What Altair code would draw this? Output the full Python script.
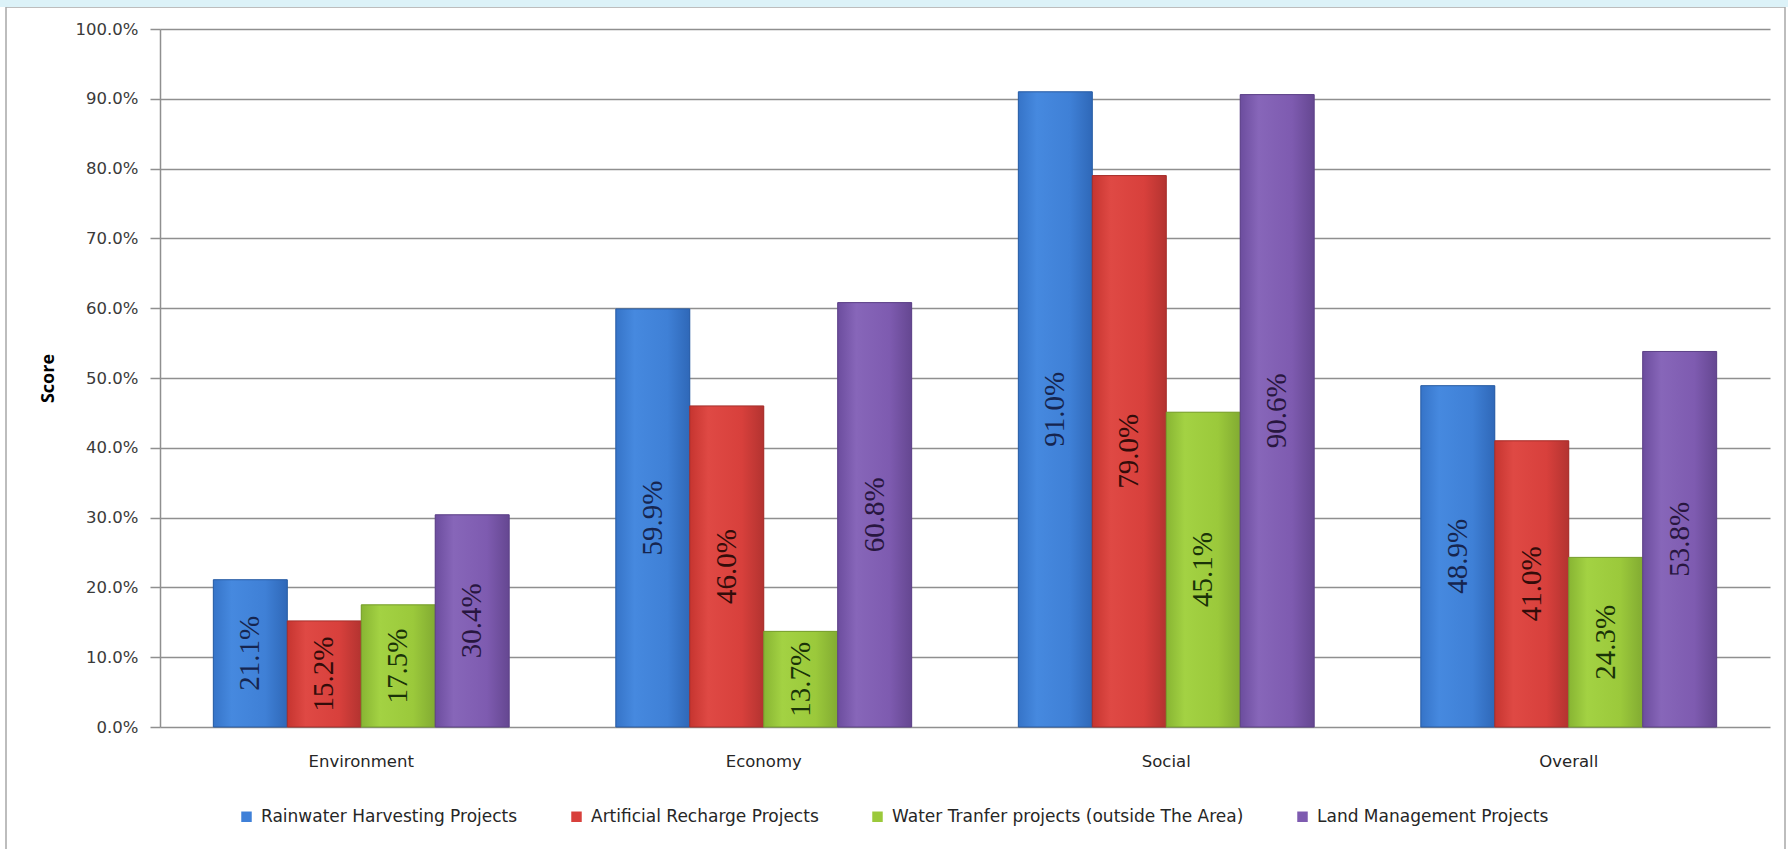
import altair as alt
import pandas as pd

categories = ["Environment", "Economy", "Social", "Overall"]
series = [
    "Rainwater Harvesting Projects",
    "Artificial Recharge Projects",
    "Water Tranfer projects (outside The Area)",
    "Land Management  Projects",
]
rainwater = [0.211, 0.599, 0.910, 0.489]
artificial = [0.152, 0.460, 0.790, 0.410]
transfer = [0.175, 0.137, 0.451, 0.243]
land = [0.304, 0.608, 0.906, 0.538]
y_ticks = [0.0, 0.1, 0.2, 0.3, 0.4, 0.5, 0.6, 0.7, 0.8, 0.9, 1.0]

legend_colors = ["#3f80d8", "#d8403c", "#9bc93b", "#7e5bb0"]
grad_stops = [
    ["#3674c8", "#4689df", "#3f80d6", "#2f68b8"],
    ["#c63530", "#df4944", "#d8403c", "#b33330"],
    ["#88b533", "#a3d243", "#9bc93b", "#82ab32"],
    ["#6c4d9e", "#8766b9", "#7e5bb0", "#654791"],
]
strokes = ["#2a5da3", "#a52f2b", "#779d2e", "#5d4287"]
label_colors = ["#16254f", "#330c0a", "#1a3308", "#28163f"]

rows = []
for s, vals in zip(series, [rainwater, artificial, transfer, land]):
    for c, v in zip(categories, vals):
        rows.append({"category": c, "series": s, "value": v})
df = pd.DataFrame(rows)

W, H = 1610, 698
SANS = "DejaVu Sans"

xenc = alt.X("category:N", sort=categories,
             scale=alt.Scale(paddingInner=0.265, paddingOuter=0.1325),
             axis=alt.Axis(title=None, labelAngle=0, domain=False, ticks=False,
                           labelPadding=26, labelFontSize=16.5, labelFont=SANS,
                           labelColor="#262626"))
xoff = alt.XOffset("series:N", sort=series, scale=alt.Scale(paddingInner=0, paddingOuter=0))


def yenc(field):
    return alt.Y(field, scale=alt.Scale(domain=[0, 1], nice=False),
                 title="Score",
                 axis=alt.Axis(values=y_ticks, format=".1%", grid=True,
                               gridColor="#8f8f8f", gridWidth=1.5,
                               domainColor="#8f8f8f", domainWidth=1.5,
                               tickColor="#8f8f8f", tickWidth=1.5, tickSize=10,
                               labelPadding=12, labelFontSize=16.5, labelFont=SANS,
                               labelColor="#3a3a3a",
                               titleFont="Open Sans", titleFontSize=18, titleFontWeight="bold",
                               titleColor="#000000", titleAngle=270,
                               titleX=-112, titleY=H / 2, titleAlign="center",
                               titleBaseline="middle"))


frame_df = pd.DataFrame({"a": [0]})
frame = alt.Chart(frame_df).mark_rect(fillOpacity=0, stroke="#a8a8a8", strokeWidth=1.5).encode(
    x=alt.value(-154), x2=alt.value(1625), y=alt.value(-22), y2=alt.value(860))
strip = alt.Chart(frame_df).mark_rect(color="#dcf2f8").encode(
    x=alt.value(-160), x2=alt.value(1628), y=alt.value(-29), y2=alt.value(-22))

base_bars = alt.Chart(df).mark_bar().encode(
    x=xenc, xOffset=xoff, y=yenc("value:Q"),
    color=alt.Color("series:N", sort=series,
                    scale=alt.Scale(domain=series, range=legend_colors),
                    legend=alt.Legend(title=None, orient="none", direction="horizontal",
                                      legendX=78, legendY=779, padding=0,
                                      symbolType="square", symbolSize=110,
                                      symbolStrokeWidth=0, labelOffset=6,
                                      columnPadding=50, labelLimit=600,
                                      labelFont=SANS, labelFontSize=17,
                                      labelColor="#262626")),
)

layers = [frame, strip, base_bars]
for i, s in enumerate(series):
    g = grad_stops[i]
    grad = alt.Gradient(gradient="linear", x1=0, x2=1, y1=0, y2=0,
                        stops=[alt.GradientStop(offset=0, color=g[0]),
                               alt.GradientStop(offset=0.25, color=g[1]),
                               alt.GradientStop(offset=0.7, color=g[2]),
                               alt.GradientStop(offset=1, color=g[3])])
    bars = alt.Chart(df).transform_filter(alt.datum.series == s).mark_bar(
        fill=grad, stroke=strokes[i], strokeWidth=1).encode(
        x=xenc, xOffset=xoff, y=yenc("value:Q"))
    texts = alt.Chart(df).transform_filter(alt.datum.series == s).transform_calculate(
        half="datum.value / 2").mark_text(
        angle=270, align="center", baseline="middle", font="Liberation Serif",
        fontSize=29, color=label_colors[i]).encode(
        x=xenc, xOffset=xoff, y=yenc("half:Q"),
        text=alt.Text("value:Q", format=".1%"))
    layers += [bars, texts]

chart = alt.layer(*layers).properties(
    width=W, height=H,
    padding={"left": 160, "top": 29, "right": 18, "bottom": 122},
    autosize=alt.AutoSizeParams(type="none"),
    background="#ffffff",
).configure_view(strokeWidth=0)

chart.save("out.html", embed_options={"renderer": "svg", "actions": False})
